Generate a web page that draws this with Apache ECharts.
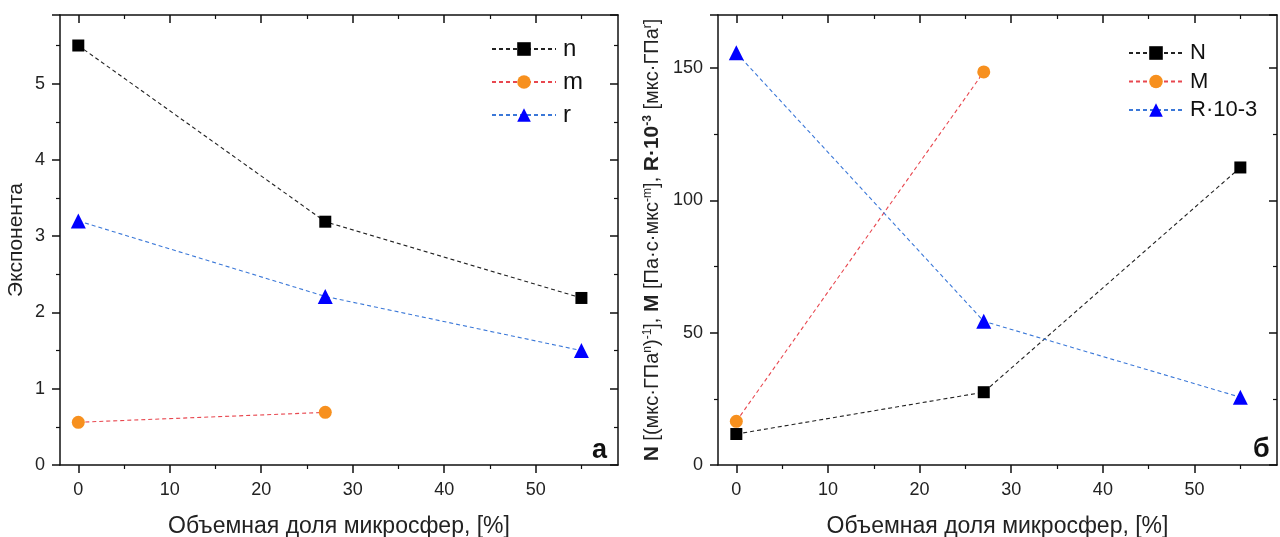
<!DOCTYPE html>
<html><head><meta charset="utf-8">
<script src="https://cdn.jsdelivr.net/npm/echarts@6/dist/echarts.min.js"></script>
<style>html,body{margin:0;padding:0;background:#fff}#c{width:1280px;height:537px}</style>
</head><body><div id="c"></div>
<script>
// Data
const xVals = [0, 27, 55];
const nVals = [5.5, 3.19, 2.19];
const mVals = [0.56, 0.69];
const rVals = [3.2, 2.21, 1.5];
const NVals = [11.7, 27.5, 112.4];
const MVals = [16.5, 148.5];
const RVals = [155.7, 54.3, 25.6];
const xMajorTicks = [0, 10, 20, 30, 40, 50];
const xMinorTicks = [5, 15, 25, 35, 45, 55];
const xName = 'Объемная доля микросфер, [%]';
const yNameLeft = 'Экспонента';

const pair = (xs, ys) => ys.map((v, i) => [xs[i], v]);
const FONT = 'Liberation Sans';
const chart = echarts.init(document.getElementById('c'));

const grids = [
  {left: 60, top: 15, width: 558, height: 450, outerBoundsMode: 'none', containLabel: false},
  {left: 718, top: 15, width: 559, height: 450, outerBoundsMode: 'none', containLabel: false}
];
const XMIN = -2, XMAX = 59;
const lineS = {color: '#111', width: 1.5};
function xAxisSet(gi) {
  return [
    {type: 'value', gridIndex: gi, min: XMIN, max: XMAX, position: 'bottom',
      name: xName, nameLocation: 'middle', nameGap: 50,
      nameTextStyle: {fontFamily: FONT, fontSize: 23, color: '#222'},
      axisLine: {onZero: false, lineStyle: lineS},
      axisTick: {show: true, inside: false, length: 8, customValues: xMajorTicks, lineStyle: lineS},
      axisLabel: {fontFamily: FONT, fontSize: 18, color: '#222', margin: 16, customValues: xMajorTicks},
      splitLine: {show: false}},
    {type: 'value', gridIndex: gi, min: XMIN, max: XMAX, position: 'bottom',
      axisLine: {show: false, onZero: false},
      axisTick: {show: true, inside: false, length: 4, customValues: xMinorTicks, lineStyle: {color: '#111', width: 1.2}},
      axisLabel: {show: false}, splitLine: {show: false}},
    {type: 'value', gridIndex: gi, min: XMIN, max: XMAX, position: 'top',
      axisLine: {onZero: false, lineStyle: lineS},
      axisTick: {show: true, inside: true, length: 8, customValues: xMajorTicks, lineStyle: lineS},
      axisLabel: {show: false}, splitLine: {show: false}},
    {type: 'value', gridIndex: gi, min: XMIN, max: XMAX, position: 'top',
      axisLine: {show: false, onZero: false},
      axisTick: {show: true, inside: true, length: 4, customValues: xMinorTicks, lineStyle: {color: '#111', width: 1.2}},
      axisLabel: {show: false}, splitLine: {show: false}}
  ];
}
function leftY(gi, max, interval, name, nameGap, nameStyle) {
  return {type: 'value', gridIndex: gi, min: 0, max: max, interval: interval, position: 'left',
    name: name, nameLocation: 'middle', nameGap: nameGap, nameTextStyle: nameStyle,
    axisLine: {show: true, onZero: false, lineStyle: lineS},
    axisTick: {show: true, inside: false, length: 8, lineStyle: lineS},
    minorTick: {show: true, splitNumber: 2, length: 4, lineStyle: {color: '#111', width: 1.2}},
    axisLabel: {fontFamily: FONT, fontSize: 18, color: '#222', margin: 15, showMaxLabel: false},
    splitLine: {show: false}};
}
function rightY(gi, max, interval) {
  return {type: 'value', gridIndex: gi, min: 0, max: max, interval: interval, position: 'right',
    axisLine: {show: true, onZero: false, lineStyle: lineS},
    axisTick: {show: true, inside: true, length: 8, lineStyle: lineS},
    minorTick: {show: true, splitNumber: 2, length: 4, lineStyle: {color: '#111', width: 1.2}},
    axisLabel: {show: false}, splitLine: {show: false}};
}

const rightName = '{b|N} [(мкс·ГПа{s|n}){s|-1}], {b|M} [Па·с·мкс{s|-m}], {b|R·10}{sb|-3} [мкс·ГПа{s|r}]';
const rightNameStyle = {fontFamily: FONT, fontSize: 20, color: '#222',
  rich: {
    b: {fontFamily: FONT, fontSize: 21, fontWeight: 'bold', color: '#222'},
    s: {fontFamily: FONT, fontSize: 12, color: '#222', verticalAlign: 'top', lineHeight: 12, padding: [0,0,8,0]},
    sb: {fontFamily: FONT, fontSize: 12, fontWeight: 'bold', color: '#222', verticalAlign: 'top', lineHeight: 12, padding: [0,0,8,0]}
  }};

function ser(name, xi, yi, data, lineColor, symbol, symColor, size) {
  return {name: name, type: 'line', xAxisIndex: xi, yAxisIndex: yi, data: data,
    symbol: symbol, symbolSize: size, showSymbol: true,
    lineStyle: {color: lineColor, width: 1.1, type: [4, 3]},
    itemStyle: {color: symColor, borderWidth: 0}, z: 3};
}

const option = {
  animation: false,
  backgroundColor: '#fff',
  grid: grids,
  xAxis: [...xAxisSet(0), ...xAxisSet(1)],
  yAxis: [
    leftY(0, 5.9, 1, yNameLeft, 33, {fontFamily: FONT, fontSize: 21, color: '#222'}),
    rightY(0, 5.9, 1),
    leftY(1, 170, 50, rightName, 55, rightNameStyle),
    rightY(1, 170, 50)
  ],
  legend: [
    {orient: 'vertical', left: 486, top: 32, itemWidth: 64, itemHeight: 17, itemGap: 9,
      textStyle: {fontFamily: FONT, fontSize: 24, color: '#111', padding: [0,0,0,2]},
      data: ['n', 'm', 'r']},
    {orient: 'vertical', left: 1123, top: 37, itemWidth: 54, itemHeight: 17, itemGap: 6.5,
      textStyle: {fontFamily: FONT, fontSize: 22, color: '#111', padding: [0,0,0,2]},
      data: ['N', 'M', 'R·10-3']}
  ],
  graphic: [
    {type: 'text', left: 592, top: 437, style: {text: 'a', fontFamily: FONT, fontSize: 27, fontWeight: 'bold', fill: '#111'}},
    {type: 'text', left: 1253, top: 436, style: {text: 'б', fontFamily: FONT, fontSize: 27, fontWeight: 'bold', fill: '#111'}}
  ],
  series: [
    ser('n', 0, 0, pair(xVals, nVals), '#222', 'rect', '#000', 12),
    ser('m', 0, 0, pair(xVals, mVals), '#e8474f', 'circle', '#f7901e', 13),
    ser('r', 0, 0, pair(xVals, rVals), '#3b78d8', 'triangle', '#0000ff', 15),
    ser('N', 4, 2, pair(xVals, NVals), '#222', 'rect', '#000', 12),
    ser('M', 4, 2, pair(xVals, MVals), '#e8474f', 'circle', '#f7901e', 13),
    ser('R·10-3', 4, 2, pair(xVals, RVals), '#3b78d8', 'triangle', '#0000ff', 15)
  ]
};
chart.setOption(option);
</script></body></html>
